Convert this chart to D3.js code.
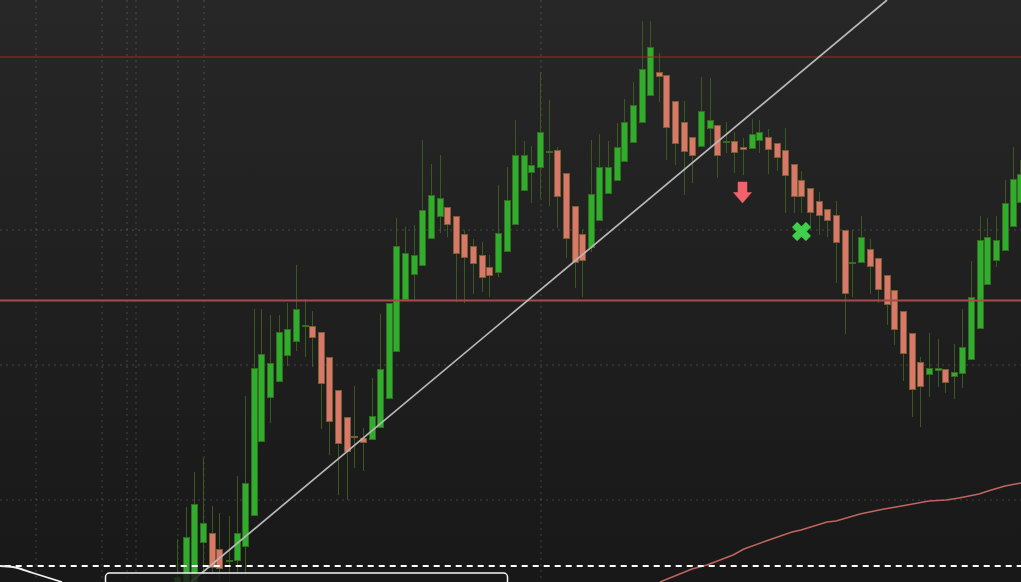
<!DOCTYPE html>
<html><head><meta charset="utf-8">
<script src="https://cdn.jsdelivr.net/npm/d3@7/dist/d3.min.js"></script>
<style>html,body{margin:0;padding:0;background:#1c1c1c;overflow:hidden}svg{display:block}</style>
</head><body><div id="chart"></div>
<script>
const W = 1021, H = 582;
const barTimes = [177,186,194,203,212,219,229,237,245,254,261,270,279,287,296,305,312,321,329,338,347,354,363,372,380,389,396,405,414,422,431,440,447,456,464,473,482,489,498,507,515,524,531,540,549,557,566,575,582,591,599,608,617,624,633,642,650,659,666,675,684,692,701,710,717,726,734,743,752,759,768,777,785,794,801,810,819,827,836,845,852,861,870,878,887,894,903,912,920,929,938,945,954,962,971,980,987,996,1005,1013,1020];
const opens = [910,900,900,957,967,951,940,939,953,984,1058,1102,1118,1144,1158,1175,1174,1168,1143,1110,1083,1064,1062,1060,1072,1101,1148,1200,1225,1234,1261,1283,1293,1284,1266,1254,1245,1233,1227,1248,1275,1309,1327,1332,1349,1350,1327,1294,1266,1252,1279,1306,1319,1338,1357,1377,1404,1428,1425,1399,1378,1363,1353,1371,1375,1359,1359,1353,1351,1359,1363,1357,1350,1336,1320,1312,1299,1291,1285,1270,1238,1237,1251,1242,1225,1210,1189,1167,1138,1125,1129,1131,1123,1126,1140,1171,1215,1239,1249,1273,1297];
const closes = [923,963,996,977,932,931,940,967,1017,1132,1146,1137,1168,1171,1191,1175,1162,1116,1078,1056,1048,1062,1057,1084,1131,1197,1254,1247,1245,1290,1305,1302,1275,1246,1242,1236,1222,1224,1267,1300,1345,1345,1335,1368,1349,1303,1261,1237,1239,1306,1333,1333,1353,1378,1395,1431,1453,1423,1372,1356,1348,1344,1389,1380,1344,1359,1347,1350,1366,1368,1350,1342,1324,1303,1303,1287,1284,1279,1257,1206,1238,1263,1233,1210,1195,1170,1146,1110,1113,1132,1132,1117,1128,1153,1203,1260,1263,1260,1297,1321,1326];
const highs = [961,993,1028,1042,994,987,984,1024,1104,1191,1191,1185,1185,1197,1235,1201,1189,1168,1143,1110,1083,1114,1072,1122,1186,1197,1282,1273,1275,1360,1336,1345,1293,1284,1270,1261,1258,1245,1315,1333,1380,1359,1354,1428,1400,1353,1327,1294,1270,1360,1366,1359,1377,1401,1418,1479,1479,1447,1425,1399,1399,1363,1423,1422,1375,1378,1368,1362,1381,1380,1371,1357,1372,1336,1329,1312,1308,1291,1299,1270,1270,1284,1261,1242,1225,1210,1189,1167,1143,1167,1161,1131,1156,1191,1239,1284,1282,1284,1320,1353,1340];
const lows = [910,895,895,925,925,920,915,925,923,984,1058,1077,1118,1134,1149,1143,1133,1071,1045,1005,1000,1032,1029,1060,1072,1101,1148,1200,1200,1234,1261,1267,1263,1198,1197,1206,1208,1203,1223,1248,1275,1309,1297,1302,1294,1272,1242,1212,1203,1248,1279,1306,1319,1338,1357,1377,1404,1398,1340,1335,1305,1317,1353,1353,1322,1347,1327,1325,1351,1347,1326,1329,1287,1287,1287,1270,1265,1263,1217,1166,1203,1237,1206,1197,1175,1155,1119,1083,1073,1103,1113,1107,1101,1112,1140,1171,1215,1233,1249,1273,1297];

const gridPrices = [1000,1135,1270];
const gridTimes = [36,102,127,136,178,204,541];
const resistanceUpper = 1443;
const resistanceLower = 1199.5;
const dashedLevel = 934;
const trendTimes = [191,887];
const trendPrices = [918,1500];
const maTimes = [660,692,707,733,744,766,792,801,827,836,860,884,896,929,946,959,979,988,1005,1021];
const maPrices = [918,931,935,945,951,959,968,970,978,979,986,991,993,999,1000,1002,1006,1009,1014,1017];
const curveTimes = [0,13,33,62];
const curvePrices = [934,933,927,918];
const sellSignal = {time:742.5, price:1307.5};
const exitSignal = {time:801.5, price:1268.5};
const panelTimes = [105,507];
const panelPrice = 928.5;

const x = d3.scaleLinear().domain([0,W]).range([0,W]);
const y = d3.scaleLinear().domain([918,1500]).range([H,0]);

const svg = d3.select('#chart').append('svg').attr('width',W).attr('height',H);
const defs = svg.append('defs');
const g = defs.append('linearGradient').attr('id','bg').attr('x1',0).attr('y1',0).attr('x2',0).attr('y2',1);
g.append('stop').attr('offset','0%').attr('stop-color','#272727');
g.append('stop').attr('offset','100%').attr('stop-color','#181818');
svg.append('rect').attr('width',W).attr('height',H).attr('fill','url(#bg)');

// dotted grid
const gridG = svg.append('g').attr('stroke','#ffffff').attr('stroke-opacity',.09).attr('stroke-width',2).attr('stroke-dasharray','2 4').attr('shape-rendering','crispEdges');
gridG.selectAll('line.h').data(gridPrices).join('line').attr('class','h')
  .attr('x1',0).attr('x2',W).attr('y1',d=>Math.round(y(d))).attr('y2',d=>Math.round(y(d)));
gridG.selectAll('line.v').data(gridTimes).join('line').attr('class','v')
  .attr('y1',0).attr('y2',H).attr('x1',d=>x(d)).attr('x2',d=>x(d));

// candles
const idx = d3.range(barTimes.length);
const cg = svg.append('g');
cg.selectAll('line.wick').data(idx).join('line').attr('class','wick')
  .attr('x1',i=>x(barTimes[i])+.5).attr('x2',i=>x(barTimes[i])+.5)
  .attr('y1',i=>y(highs[i])).attr('y2',i=>y(lows[i]))
  .attr('stroke','#38591f').attr('stroke-width',1).attr('shape-rendering','crispEdges');
cg.selectAll('rect.body').data(idx).join('rect').attr('class','body')
  .attr('x',i=>x(barTimes[i])-2.5).attr('width',6)
  .attr('y',i=>y(Math.max(opens[i],closes[i]))+.5)
  .attr('height',i=>Math.max(1,Math.abs(y(opens[i])-y(closes[i]))-1))
  .attr('fill',i=>closes[i]>=opens[i]?'#2fae2d':'#d9776a')
  .attr('stroke',i=>closes[i]>=opens[i]?'#386b22':'#7a5d30')
  .attr('stroke-width',1);

// levels
const level = (p,c,w) => svg.append('line').attr('x1',0).attr('x2',W).attr('y1',y(p)).attr('y2',y(p)).attr('stroke',c).attr('stroke-width',w);
level(resistanceUpper,'#b02020',1.2);
level(resistanceLower,'#ab4a4a',1.8);

// moving average
const lineGen = d3.line().x(d=>x(d[0])).y(d=>y(d[1]));
svg.append('path').attr('d',lineGen(d3.zip(maTimes,maPrices))).attr('fill','none').attr('stroke','#bf6660').attr('stroke-width',1.5);

// trend line
svg.append('path').attr('d',lineGen(d3.zip(trendTimes,trendPrices))).attr('fill','none').attr('stroke','#b8b8b8').attr('stroke-width',1.7);

// dashed line
svg.append('rect').attr('x',0).attr('width',W).attr('y',y(dashedLevel)-1).attr('height',0);
svg.append('line').attr('x1',0).attr('x2',W).attr('y1',y(dashedLevel)).attr('y2',y(dashedLevel)).attr('stroke','#fff').attr('stroke-width',2).attr('stroke-dasharray','6 5').attr('stroke-dashoffset',6.3);

// bottom-left curve
svg.append('path').attr('d',d3.line().x(d=>x(d[0])).y(d=>y(d[1])).curve(d3.curveMonotoneX)(d3.zip(curveTimes,curvePrices))).attr('fill','none').attr('stroke','#f0f0f0').attr('stroke-width',1.8);

// bottom panel
svg.append('rect').attr('x',x(panelTimes[0])+.5).attr('y',y(panelPrice)+1.5).attr('width',x(panelTimes[1])-x(panelTimes[0])).attr('height',40).attr('rx',4)
  .attr('fill','#191919').attr('fill-opacity',.82).attr('stroke','#f4f4f4').attr('stroke-width',1.5);

// signals
const sx = x(sellSignal.time), sy = y(sellSignal.price);
svg.append('path').attr('transform',`translate(${sx},${sy})`)
  .attr('d','M-4.5,-10.5 H4.5 V0 H9 L0,10.5 L-9,0 H-4.5 Z').attr('fill','#f2626b').attr('stroke','#f2626b').attr('stroke-width',.5).attr('stroke-linejoin','round');
const ex = x(exitSignal.time), ey = y(exitSignal.price);
svg.append('path').attr('transform',`translate(${ex},${ey}) rotate(45)`)
  .attr('d',d3.symbol().type(d3.symbolCross).size(190)()).attr('fill','#3fd04b').attr('stroke','#3fd04b').attr('stroke-width',1.2).attr('stroke-linejoin','round');
</script></body></html>
